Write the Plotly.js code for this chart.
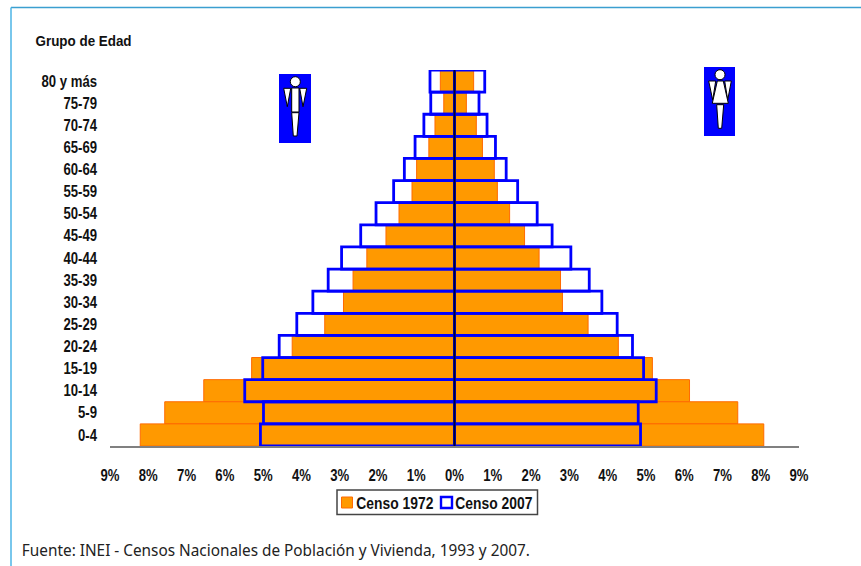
<!DOCTYPE html>
<html>
<head>
<meta charset="utf-8">
<script src="https://cdn.plot.ly/plotly-3.0.1.min.js"></script>
<style>html,body{margin:0;padding:0;background:#fff;overflow:hidden}#chart{width:861px;height:566px}</style>
</head>
<body>
<div id="chart"></div>
<script>
const ageGroups = ["80 y más","75-79","70-74","65-69","60-64","55-59","50-54","45-49","40-44","35-39","30-34","25-29","20-24","15-19","10-14","5-9","0-4"];
const men1972   = [0.37,0.28,0.51,0.67,0.99,1.11,1.45,1.79,2.29,2.65,2.90,3.39,4.24,5.30,6.55,7.57,8.21];
const women1972 = [0.50,0.31,0.57,0.73,1.04,1.12,1.44,1.83,2.21,2.77,2.82,3.49,4.28,5.17,6.14,7.40,8.08];
const men2007   = [0.64,0.62,0.80,1.03,1.31,1.59,2.05,2.45,2.95,3.30,3.70,4.12,4.58,5.01,5.48,4.99,5.07];
const women2007 = [0.79,0.64,0.85,1.07,1.35,1.65,2.16,2.55,3.04,3.52,3.85,4.25,4.65,4.94,5.27,4.80,4.86];
const axisValues = [-9,-8,-7,-6,-5,-4,-3,-2,-1,0,1,2,3,4,5,6,7,8,9];
const axisLabels = ["9%","8%","7%","6%","5%","4%","3%","2%","1%","0%","1%","2%","3%","4%","5%","6%","7%","8%","9%"];

const W = 861, H = 566;
const M = {l:110, r:62, t:70, b:120};
const FONT = '"Liberation Sans", Arial, sans-serif';
const px = v => (v - M.l) / (W - M.l - M.r);
const py = v => (H - M.b - v) / (H - M.t - M.b);
const neg = a => a.map(v => -v);

function bars(name, vals, fill, line, lw){
  return {type:'bar', orientation:'h', name, x:vals, y:ageGroups, width:1,
    marker:{color:fill, line:{color:line, width:lw}}, showlegend:false, hoverinfo:'x+y+name'};
}
const ORANGE='#ff9900', ORLINE='#ff6a00', BLUE='#0000ff';
const traces = [
  bars('Censo 1972', neg(men1972), ORANGE, ORLINE, 1),
  bars('Censo 1972', women1972, ORANGE, ORLINE, 1),
  bars('Censo 2007', neg(men2007), 'rgba(255,255,255,0)', BLUE, 2.8),
  bars('Censo 2007', women2007, 'rgba(255,255,255,0)', BLUE, 2.8)
];

function pathOf(pts){
  return 'M' + pts.map(p => px(p[0]).toFixed(5)+','+py(p[1]).toFixed(5)).join('L') + 'Z';
}
const fig = (pts) => ({type:'path', xref:'paper', yref:'paper', path:pathOf(pts), fillcolor:'#fff', line:{color:'#000',width:1}, layer:'above'});
const box = (x0,y0,x1,y1,fill,lc,lw) => ({type:'rect', xref:'paper', yref:'paper', x0:px(x0), x1:px(x1), y0:py(y0), y1:py(y1), fillcolor:fill, line:{color:lc,width:lw}, layer:'above'});
const circ = (cx,cy,r) => ({type:'circle', xref:'paper', yref:'paper', x0:px(cx-r), x1:px(cx+r), y0:py(cy-r), y1:py(cy+r), fillcolor:'#fff', line:{color:'#000',width:1}, layer:'above'});
const frame = (x0,y0,x1,y1,c) => ({type:'line', xref:'paper', yref:'paper', x0:px(x0), x1:px(x1), y0:py(y0), y1:py(y1), line:{color:c,width:1.5}, layer:'below'});

const shapes = [
  frame(11,7.5,861,7.5,'#3b9fd0'),
  frame(11,7.5,11,566,'#4db5e6'),
  {type:'line', xref:'x', yref:'paper', x0:0, x1:0, y0:0, y1:1, line:{color:'#000033',width:2}, layer:'above'},
  box(279,74,311,143,BLUE,BLUE,0), circ(295.3,81.7,5),
  fig([[283.7,88.3],[290.7,88.3],[287.3,106.7]]),
  fig([[299.7,88.3],[306.7,88.3],[303,106.7]]),
  fig([[291.7,88],[299,88],[299,112],[291.7,112]]),
  fig([[291.7,112.7],[299,112.7],[297,136],[293.3,136]]),
  box(704,67,735,136,BLUE,BLUE,0), circ(720,74.7,5),
  fig([[708.7,81],[715.7,81],[712.7,100]]),
  fig([[724.7,81],[731.3,81],[727.7,100]]),
  fig([[717.3,81],[723.3,81],[728.3,103.3],[712.3,103.3]]),
  fig([[716.7,104.7],[723.7,104.7],[721.7,128.3],[718.3,128.3]]),
  box(337,490,537.5,514.5,'#fff','#444',1.5),
  box(341.5,497,352.5,508,ORANGE,ORLINE,1),
  box(441,497,452,508,'#fff',BLUE,2.4)
];

const boldText = (x,y,t,size) => ({xref:'paper', yref:'paper', x:px(x), y:py(y), xanchor:'center', yanchor:'middle', showarrow:false,
  text:t, font:{family:FONT, size, weight:700, color:'#111'}});

const layout = {
  width:W, height:H, margin:M, paper_bgcolor:'#fff', plot_bgcolor:'#fff',
  barmode:'overlay', font:{family:FONT, color:'#111', size:16},
  xaxis:{range:[-9,9], tickmode:'array', tickvals:axisValues, ticktext:axisLabels, fixedrange:true,
    showgrid:false, zeroline:false, showline:true, linecolor:'#808080', linewidth:2, ticks:'',
    ticklabelstandoff:14, tickfont:{family:FONT, size:16, weight:700, color:'#111'}},
  yaxis:{type:'category', categoryorder:'array', categoryarray:ageGroups.slice().reverse(), range:[-0.5,16.5], fixedrange:true,
    showgrid:false, zeroline:false, showline:false, ticks:'', ticklabelstandoff:12,
    tickfont:{family:FONT, size:16, weight:700, color:'#111'}},
  shapes,
  showlegend:false,
  annotations:[
    boldText(83,41,'Grupo de Edad',15.5),
    boldText(394.5,502.5,'Censo 1972',16.5),
    boldText(493.5,502.5,'Censo 2007',16.5),
    {xref:'paper', yref:'paper', x:px(276), y:py(550), xanchor:'center', yanchor:'middle', showarrow:false,
     text:'Fuente: INEI - Censos Nacionales de Población y Vivienda, 1993 y 2007.', font:{family:'"Noto Sans", sans-serif', size:16, color:'#222'}}
  ]
};
// The source type is a condensed face; none is installed, so real text is narrowed to the reference's measured widths.
function squeeze(node, w){
  node.setAttribute('textLength', w);
  node.setAttribute('lengthAdjust', 'spacingAndGlyphs');
}
Plotly.newPlot('chart', traces, layout, {displayModeBar:false}).then(gd => {
  gd.querySelectorAll('.xtick text, .ytick text').forEach(t => squeeze(t, t.getComputedTextLength() * 0.82));
  const target = {'Grupo de Edad':96, 'Censo 1972':77, 'Censo 2007':77};
  gd.querySelectorAll('.annotation-text').forEach(t => {
    squeeze(t, target[t.textContent] || 508);
  });
});
</script>
</body>
</html>
